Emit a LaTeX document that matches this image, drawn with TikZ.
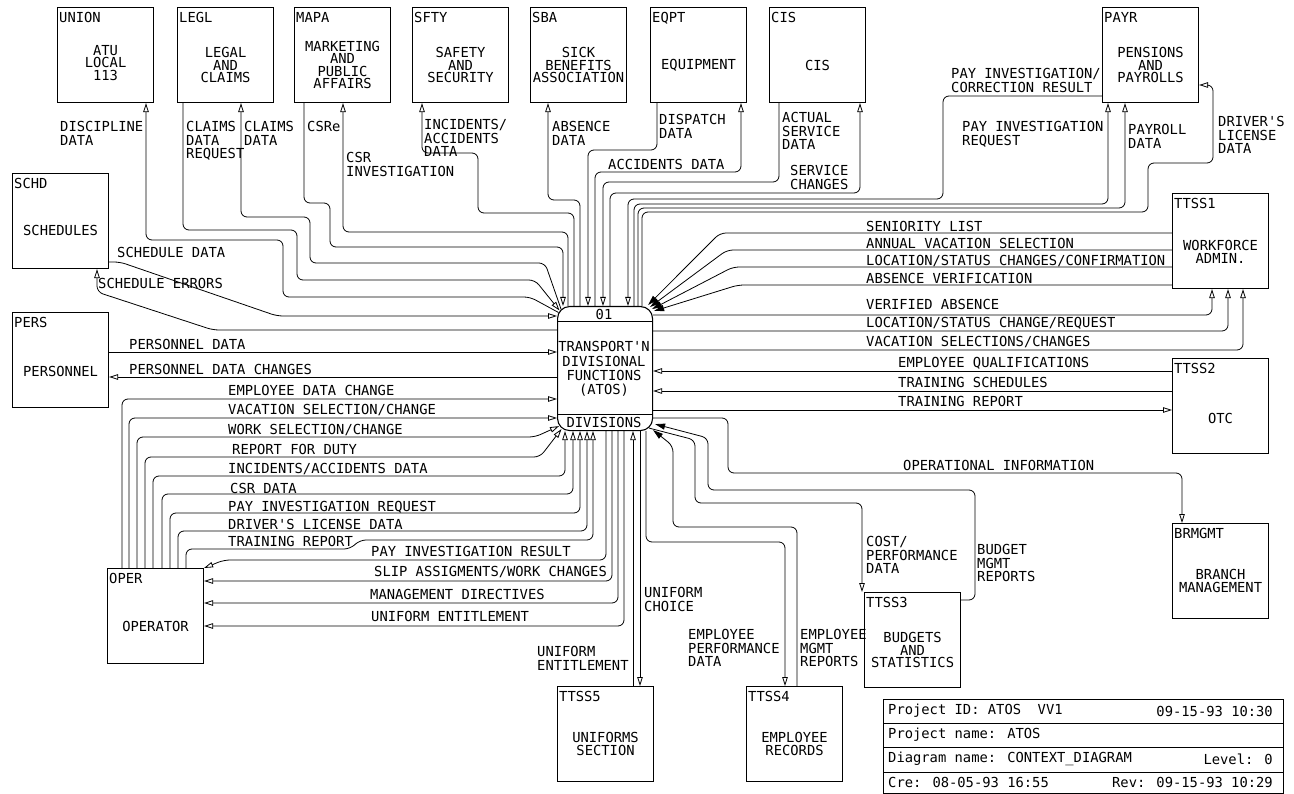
\documentclass[tikz,border=0pt]{standalone}
\usepackage{fontspec}
\newfontfamily\plotfam{DejaVu Sans Mono}
\newcommand\lblf{\plotfam\fontsize{13.8}{13.6}\selectfont}
\newcommand\boxf{\plotfam\fontsize{13.8}{12.4}\selectfont}
\usetikzlibrary{arrows.meta}
\begin{document}
\begin{tikzpicture}[x=1pt,y=-1pt,
  box/.style={draw,line width=1.1pt,minimum width=96pt,minimum height=95pt,anchor=north west,inner sep=0pt},
  tag/.style={font=\boxf,anchor=north west,inner sep=0pt},
  btxt/.style={font=\boxf,align=center,inner sep=0pt},
  lab/.style={font=\lblf,align=left,inner sep=0pt,anchor=north west},
  flow/.style={draw,line width=0.8pt,rounded corners=6pt,-{Triangle[open,length=9pt,width=5.5pt]}},
  flowf/.style={draw,line width=0.8pt,rounded corners=6pt,-{Triangle[length=10pt,width=6pt]}},
]
\useasboundingbox (0,0) rectangle (1294,794);

% ---------------- boxes ----------------
\node[box] (union) at (57,7) {};
\node[box] (legl) at (177,7) {};
\node[box] (mapa) at (294,7) {};
\node[box] (sfty) at (412,7) {};
\node[box] (sba) at (530,7) {};
\node[box] (eqpt) at (650,7) {};
\node[box] (cis) at (769,7) {};
\node[box] (payr) at (1102,7) {};
\node[box] (schd) at (12,173) {};
\node[box] (pers) at (12,312) {};
\node[box] (oper) at (107,568) {};
\node[box] (ttss1) at (1172,193) {};
\node[box] (ttss2) at (1172,358) {};
\node[box] (brmgmt) at (1172,523) {};
\node[box] (ttss3) at (864,592) {};
\node[box] (ttss5) at (557,686) {};
\node[box] (ttss4) at (746,686) {};

\node[tag] (union-t) at ([shift={(2,5)}]union.north west) {UNION};
\node[tag] (legl-t) at ([shift={(2,5)}]legl.north west) {LEGL};
\node[tag] (mapa-t) at ([shift={(2,5)}]mapa.north west) {MAPA};
\node[tag] (sfty-t) at ([shift={(2,5)}]sfty.north west) {SFTY};
\node[tag] (sba-t) at ([shift={(2,5)}]sba.north west) {SBA};
\node[tag] (eqpt-t) at ([shift={(2,5)}]eqpt.north west) {EQPT};
\node[tag] (cis-t) at ([shift={(2,5)}]cis.north west) {CIS};
\node[tag] (payr-t) at ([shift={(2,5)}]payr.north west) {PAYR};
\node[tag] (schd-t) at ([shift={(2,5)}]schd.north west) {SCHD};
\node[tag] (pers-t) at ([shift={(2,5)}]pers.north west) {PERS};
\node[tag] (oper-t) at ([shift={(2,5)}]oper.north west) {OPER};
\node[tag] (ttss1-t) at ([shift={(2,5)}]ttss1.north west) {TTSS1};
\node[tag] (ttss2-t) at ([shift={(2,5)}]ttss2.north west) {TTSS2};
\node[tag] (brmgmt-t) at ([shift={(2,5)}]brmgmt.north west) {BRMGMT};
\node[tag] (ttss3-t) at ([shift={(2,5)}]ttss3.north west) {TTSS3};
\node[tag] (ttss5-t) at ([shift={(2,5)}]ttss5.north west) {TTSS5};
\node[tag] (ttss4-t) at ([shift={(2,5)}]ttss4.north west) {TTSS4};

\node[btxt] (union-x) at ([shift={(0,8)}]union.center) {ATU\\LOCAL\\113};
\node[btxt] (legl-x) at ([shift={(0,10)}]legl.center) {LEGAL\\AND\\CLAIMS};
\node[btxt] (mapa-x) at ([shift={(0,10)}]mapa.center) {MARKETING\\AND\\PUBLIC\\AFFAIRS};
\node[btxt] (sfty-x) at ([shift={(0,10)}]sfty.center) {SAFETY\\AND\\SECURITY};
\node[btxt] (sba-x) at ([shift={(0,10)}]sba.center) {SICK\\BENEFITS\\ASSOCIATION};
\node[btxt] (eqpt-x) at ([shift={(0,10)}]eqpt.center) {EQUIPMENT};
\node[btxt] (cis-x) at ([shift={(0,10)}]cis.center) {CIS};
\node[btxt] (payr-x) at ([shift={(0,10)}]payr.center) {PENSIONS\\AND\\PAYROLLS};
\node[btxt] (schd-x) at ([shift={(0,9)}]schd.center) {SCHEDULES};
\node[btxt] (pers-x) at ([shift={(0,11)}]pers.center) {PERSONNEL};
\node[btxt] (oper-x) at ([shift={(0,10)}]oper.center) {OPERATOR};
\node[btxt] (ttss1-x) at ([shift={(0,11)}]ttss1.center) {WORKFORCE\\ADMIN.};
\node[btxt] (ttss2-x) at ([shift={(0,12)}]ttss2.center) {OTC};
\node[btxt] (brmgmt-x) at ([shift={(0,10)}]brmgmt.center) {BRANCH\\MANAGEMENT};
\node[btxt] (ttss3-x) at ([shift={(0,10)}]ttss3.center) {BUDGETS\\AND\\STATISTICS};
\node[btxt] (ttss5-x) at ([shift={(0,10)}]ttss5.center) {UNIFORMS\\SECTION};
\node[btxt] (ttss4-x) at ([shift={(0,10)}]ttss4.center) {EMPLOYEE\\RECORDS};

% ---------------- central process ----------------
\node[draw,line width=1.1pt,rounded corners=12pt,minimum width=95pt,minimum height=124pt,anchor=north west,inner sep=0pt] (ctr) at (557,306) {};
\draw[line width=0.8pt] (ctr.west |- 0,321) -- (ctr.east |- 0,321);
\draw[line width=0.8pt] (ctr.west |- 0,414) -- (ctr.east |- 0,414);
\node[btxt] (ctr-n) at (604,314) {01};
\node[btxt,font=\plotfam\fontsize{13.8}{14.4}\selectfont] (ctr-x) at (604,369) {TRANSPORT'N\\DIVISIONAL\\FUNCTIONS\\(ATOS)};
\node[btxt] (ctr-d) at (604,422) {DIVISIONS};

% ---------------- top-left flows ----------------
\draw[flow] ([shift={(1.5,6.5)}]ctr.north west) -- (530,297) -- (283,297) -- (283,240) -- (146,240) -- (union.south -| 146,0);
\draw[flow] (legl.south -| 183,0) -- (183,230) -- (297,230) -- (297,280) -- (535,280) -- ([shift={(2.5,4.5)}]ctr.north west);
\draw[flow] ([shift={(4,3)}]ctr.north west) -- (545,263) -- (310,263) -- (310,217) -- (241,217) -- (legl.south -| 241,0);
\draw[flow] (mapa.south -| 304,0) -- (304,203) -- (330,203) -- (330,247) -- (563,247) -- (ctr.north -| 563,0);
\draw[flow] (ctr.north -| 568,0) -- (568,232) -- (343,232) -- (mapa.south -| 343,0);
\draw[flow] (ctr.north -| 574,0) -- (574,213) -- (478,213) -- (478,153) -- (422,153) -- (sfty.south -| 422,0);
\draw[flow] (ctr.north -| 580,0) -- (580,200) -- (548,200) -- (sba.south -| 548,0);
\draw[flow] (eqpt.south -| 657,0) -- (657,150) -- (588,150) -- (ctr.north -| 588,0);
\draw[flow] (ctr.north -| 595,0) -- (595,172) -- (741,172) -- (eqpt.south -| 741,0);
\draw[flow] (cis.south -| 779,0) -- (779,182) -- (603,182) -- (ctr.north -| 603,0);
\draw[flow] (ctr.north -| 610,0) -- (610,193) -- (860,193) -- (cis.south -| 860,0);
\draw[flow] (payr.west |- 0,96) -- (943,96) -- (943,199) -- (628,199) -- (ctr.north -| 628,0);
\draw[flow] (ctr.north -| 634,0) -- (634,204) -- (1108,204) -- (payr.south -| 1108,0);
\draw[flow] (ctr.north -| 638,0) -- (638,208) -- (1125,208) -- (payr.south -| 1125,0);
\draw[flow] (ctr.north -| 642,0) -- (642,212) -- (1148,212) -- (1148,163) -- (1213,163) -- (1213,85) -- (payr.east |- 0,85);

% ---------------- TTSS1 / TTSS2 ----------------
\draw[flowf] (ttss1.west |- 0,233) -- (720,233) -- ([shift={(-5,-1)}]ctr.north east);
\draw[flowf] (ttss1.west |- 0,250) -- (727,250) -- ([shift={(-3,1)}]ctr.north east);
\draw[flowf] (ttss1.west |- 0,267) -- (733,267) -- ([shift={(-1,3)}]ctr.north east);
\draw[flowf] (ttss1.west |- 0,285) -- (738,285) -- ([shift={(1,5)}]ctr.north east);
\draw[flow] (ctr.east |- 0,315) -- (1212,315) -- (ttss1.south -| 1212,0);
\draw[flow] (ctr.east |- 0,331) -- (1228,331) -- (ttss1.south -| 1228,0);
\draw[flow] (ctr.east |- 0,350) -- (1243,350) -- (ttss1.south -| 1243,0);
\draw[flow] (ttss2.west |- 0,371) -- (ctr.east |- 0,371);
\draw[flow] (ttss2.west |- 0,391) -- (ctr.east |- 0,391);
\draw[flow] (ctr.east |- 0,410) -- (ttss2.west |- 0,410);
\draw[flow] (ctr.east |- 0,418) -- (728,418) -- (728,473) -- (1182,473) -- (brmgmt.north -| 1182,0);

% ---------------- bottom-right ----------------
\draw[flowf] (ttss3.east |- 0,600) -- (975,600) -- (975,490) -- (708,490) -- (708,438) -- ([shift={(2,-7)}]ctr.south east);
\draw[flow] ([shift={(-4,-3)}]ctr.south east) -- (695,440) -- (695,503) -- (862,503) -- (ttss3.north -| 862,0);
\draw[flowf] (ttss4.north -| 797,0) -- (797,527) -- (673,527) -- (673,446) -- ([shift={(0,-1)}]ctr.south east);
\draw[flow] (ctr.south -| 646,0) -- (646,542) -- (785,542) -- (ttss4.north -| 785,0);
\draw[flow] (ctr.south -| 640,0) -- (ttss5.north -| 640,0);
\draw[flow] (ttss5.north -| 633,0) -- (ctr.south -| 633,0);

% ---------------- operator ----------------
\draw[flow] (ctr.south -| 624,0) -- (624,626) -- (oper.east |- 0,626);
\draw[flow] (ctr.south -| 618,0) -- (618,603) -- (oper.east |- 0,603);
\draw[flow] (ctr.south -| 612,0) -- (612,581) -- (oper.east |- 0,581);
\draw[flow] (ctr.south -| 606,0) -- (606,560) -- (224,560) -- (oper.north east);
\draw[flow] (oper.north -| 122,0) -- (122,399) -- (ctr.west |- 0,399);
\draw[flow] (oper.north -| 129,0) -- (129,418) -- (ctr.west |- 0,418);
\draw[flow] (oper.north -| 137,0) -- (137,437) -- (535,437) -- ([shift={(2,-5)}]ctr.south west);
\draw[flow] (oper.north -| 145,0) -- (145,457) -- (540,457) -- ([shift={(4.5,-2)}]ctr.south west);
\draw[flow] (oper.north -| 153,0) -- (153,476) -- (565,476) -- (ctr.south -| 565,0);
\draw[flow] (oper.north -| 162,0) -- (162,494) -- (573,494) -- (ctr.south -| 573,0);
\draw[flow] (oper.north -| 170,0) -- (170,513) -- (580,513) -- (ctr.south -| 580,0);
\draw[flow] (oper.north -| 178,0) -- (178,531) -- (587,531) -- (ctr.south -| 587,0);
\draw[flow] (oper.north -| 186,0) -- (186,549) -- (350,549) -- (360,540) -- (593,540) -- (ctr.south -| 593,0);

% ---------------- schedules / personnel ----------------
\draw[flow] (schd.east |- 0,262) -- (120,262) -- (277,316) -- (ctr.west |- 0,316);
\draw[flow] (ctr.west |- 0,330) -- (213,330) -- (97,292) -- (schd.south -| 97,0);
\draw[flow] (pers.east |- 0,352) -- (ctr.west |- 0,352);
\draw[flow] (ctr.west |- 0,377) -- (pers.east |- 0,377);

% ---------------- labels ----------------
\node[lab] (l1) at (60,121) {DISCIPLINE\\DATA};
\node[lab] (l2) at (186,121) {CLAIMS\\DATA\\REQUEST};
\node[lab] (l3) at (244,121) {CLAIMS\\DATA};
\node[lab] (l4) at (307,121) {CSRe};
\node[lab] (l5) at (346,152) {CSR\\INVESTIGATION};
\node[lab] (l6) at (424,119) {INCIDENTS/\\ACCIDENTS\\DATA};
\node[lab] (l7) at (552,121) {ABSENCE\\DATA};
\node[lab] (l8) at (659,114) {DISPATCH\\DATA};
\node[lab] (l9) at (608,159) {ACCIDENTS DATA};
\node[lab] (l10) at (782,112) {ACTUAL\\SERVICE\\DATA};
\node[lab] (l11) at (790,165) {SERVICE\\CHANGES};
\node[lab] (l12) at (951,68) {PAY INVESTIGATION/\\CORRECTION RESULT};
\node[lab] (l13) at (962,121) {PAY INVESTIGATION\\REQUEST};
\node[lab] (l14) at (1128,124) {PAYROLL\\DATA};
\node[lab] (l15) at (1218,116) {DRIVER'S\\LICENSE\\DATA};
\node[lab] (l16) at (117,247) {SCHEDULE DATA};
\node[lab] (l17) at (98,278) {SCHEDULE ERRORS};
\node[lab] (l18) at (129,339) {PERSONNEL DATA};
\node[lab] (l19) at (129,364) {PERSONNEL DATA CHANGES};
\node[lab] (l20) at (228,385) {EMPLOYEE DATA CHANGE};
\node[lab] (l21) at (228,404) {VACATION SELECTION/CHANGE};
\node[lab] (l22) at (228,424) {WORK SELECTION/CHANGE};
\node[lab] (l23) at (232,444) {REPORT FOR DUTY};
\node[lab] (l24) at (228,463) {INCIDENTS/ACCIDENTS DATA};
\node[lab] (l25) at (230,483) {CSR DATA};
\node[lab] (l26) at (228,501) {PAY INVESTIGATION REQUEST};
\node[lab] (l27) at (228,519) {DRIVER'S LICENSE DATA};
\node[lab] (l28) at (228,536) {TRAINING REPORT};
\node[lab] (l29) at (371,546) {PAY INVESTIGATION RESULT};
\node[lab] (l30) at (374,566) {SLIP ASSIGMENTS/WORK CHANGES};
\node[lab] (l31) at (370,589) {MANAGEMENT DIRECTIVES};
\node[lab] (l32) at (371,611) {UNIFORM ENTITLEMENT};
\node[lab] (l33) at (866,221) {SENIORITY LIST};
\node[lab] (l34) at (866,238) {ANNUAL VACATION SELECTION};
\node[lab] (l35) at (866,255) {LOCATION/STATUS CHANGES/CONFIRMATION};
\node[lab] (l36) at (866,273) {ABSENCE VERIFICATION};
\node[lab] (l37) at (866,299) {VERIFIED ABSENCE};
\node[lab] (l38) at (866,317) {LOCATION/STATUS CHANGE/REQUEST};
\node[lab] (l39) at (866,336) {VACATION SELECTIONS/CHANGES};
\node[lab] (l40) at (898,357) {EMPLOYEE QUALIFICATIONS};
\node[lab] (l41) at (898,377) {TRAINING SCHEDULES};
\node[lab] (l42) at (898,396) {TRAINING REPORT};
\node[lab] (l43) at (903,460) {OPERATIONAL INFORMATION};
\node[lab] (l44) at (866,536) {COST/\\PERFORMANCE\\DATA};
\node[lab] (l45) at (977,544) {BUDGET\\MGMT\\REPORTS};
\node[lab] (l46) at (537,646) {UNIFORM\\ENTITLEMENT};
\node[lab] (l47) at (644,587) {UNIFORM\\CHOICE};
\node[lab] (l48) at (688,629) {EMPLOYEE\\PERFORMANCE\\DATA};
\node[lab] (l49) at (800,629) {EMPLOYEE\\MGMT\\REPORTS};

% ---------------- title block ----------------
\node[draw,line width=1.1pt,minimum width=400pt,minimum height=94pt,anchor=north west,inner sep=0pt] (tb) at (883,699) {};
\draw[line width=0.8pt] (tb.west |- 0,723) -- (tb.east |- 0,723);
\draw[line width=0.8pt] (tb.west |- 0,747) -- (tb.east |- 0,747);
\draw[line width=0.8pt] (tb.west |- 0,772) -- (tb.east |- 0,772);
\node[lab,anchor=west] (tb1) at (888,711) {Project ID: ATOS\ \ VV1};
\node[lab,anchor=east] (tb1r) at (1273,711) {09-15-93 10:30};
\node[lab,anchor=west] (tb2) at (888,735) {Project name: ATOS};
\node[lab,anchor=west] (tb3) at (888,759) {Diagram name: CONTEXT\_DIAGRAM};
\node[lab,anchor=east] (tb3r) at (1273,759) {Level: 0};
\node[lab,anchor=west] (tb4) at (888,782) {Cre: 08-05-93 16:55};
\node[lab,anchor=east] (tb4r) at (1273,782) {Rev: 09-15-93 10:29};
\end{tikzpicture}
\end{document}
